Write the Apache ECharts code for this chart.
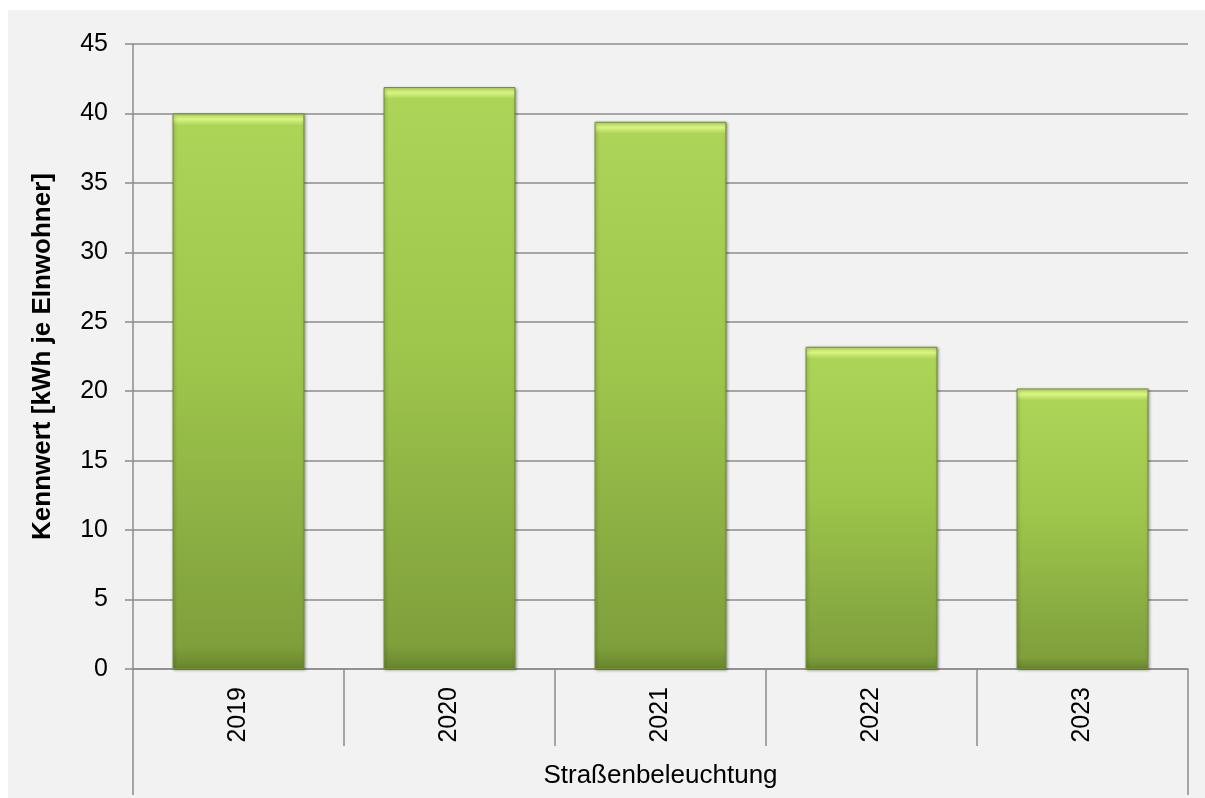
<!DOCTYPE html>
<html>
<head>
<meta charset="utf-8">
<script src="https://cdn.jsdelivr.net/npm/echarts@6/dist/echarts.min.js"></script>
<style>
  html, body { margin: 0; padding: 0; background: #ffffff; }
  #chart { position: absolute; left: 8px; top: 10px; width: 1197px; height: 788px; background: #f2f2f2; }
</style>
</head>
<body>
<div id="chart"></div>
<script>
// Energy indicator for street lighting, per inhabitant
const years = ['2019', '2020', '2021', '2022', '2023'];
const groupLabel = ['Straßenbeleuchtung'];
const values = [40.0, 41.9, 39.4, 23.2, 20.2];
const yTicks = { min: 0, max: 45, interval: 5 };
const yAxisTitle = 'Kennwert [kWh je EInwohner]';

const FONT = '"Liberation Sans", Arial, sans-serif';
const GRAY = '#8c8c8c';

// Bevelled green fill: a bright strip at the top, then a light-to-dark fade
function barStyle(v) {
  const edge = Math.min(0.1, 0.85 / v);
  return {
    color: new echarts.graphic.LinearGradient(0, 0, 0, 1, [
      { offset: 0, color: '#c2e466' },
      { offset: edge * 0.5, color: '#d8f482' },
      { offset: edge, color: '#acd457' },
      { offset: 0.45, color: '#9ec64c' },
      { offset: 0.96, color: '#7f9f3c' },
      { offset: 1, color: '#67862e' }
    ]),
    borderColor: '#6f8f33',
    borderWidth: 1,
    shadowColor: 'rgba(0,0,0,0.35)',
    shadowBlur: 3,
    shadowOffsetX: 1,
    shadowOffsetY: 1
  };
}

const chart = echarts.init(document.getElementById('chart'), null, { renderer: 'canvas' });

chart.setOption({
  backgroundColor: '#f2f2f2',
  animation: false,
  grid: { left: 125, right: 17, top: 34, bottom: 129, containLabel: false },
  xAxis: [
    {
      type: 'category',
      data: years,
      position: 'bottom',
      axisLine: { show: true, lineStyle: { color: GRAY, width: 1.5 } },
      axisTick: { show: true, alignWithLabel: false, length: 77, lineStyle: { color: GRAY, width: 1.5 } },
      axisLabel: { rotate: 90, margin: 18, color: '#000', fontSize: 25, fontFamily: FONT }
    },
    {
      type: 'category',
      data: groupLabel,
      position: 'bottom',
      axisLine: { show: false },
      axisTick: { show: true, alignWithLabel: false, length: 126, lineStyle: { color: GRAY, width: 1.5 } },
      axisLabel: { margin: 94, color: '#000', fontSize: 26, fontFamily: FONT }
    }
  ],
  yAxis: {
    type: 'value',
    min: yTicks.min,
    max: yTicks.max,
    interval: yTicks.interval,
    name: yAxisTitle,
    nameLocation: 'middle',
    nameRotate: 90,
    nameGap: 77,
    nameTextStyle: { color: '#000', fontSize: 26, fontWeight: 'bold', fontFamily: FONT },
    axisLine: { show: true, lineStyle: { color: GRAY, width: 1.5 } },
    axisTick: { show: true, length: 8, lineStyle: { color: GRAY, width: 1.5 } },
    axisLabel: { margin: 25, color: '#000', fontSize: 25, fontFamily: FONT },
    splitLine: { show: true, lineStyle: { color: GRAY, width: 1.5 } }
  },
  series: [
    {
      type: 'bar',
      xAxisIndex: 0,
      barCategoryGap: '37.5%',
      data: values.map(v => ({ value: v, itemStyle: barStyle(v) })),
      z: 3
    }
  ]
});
</script>
</body>
</html>
